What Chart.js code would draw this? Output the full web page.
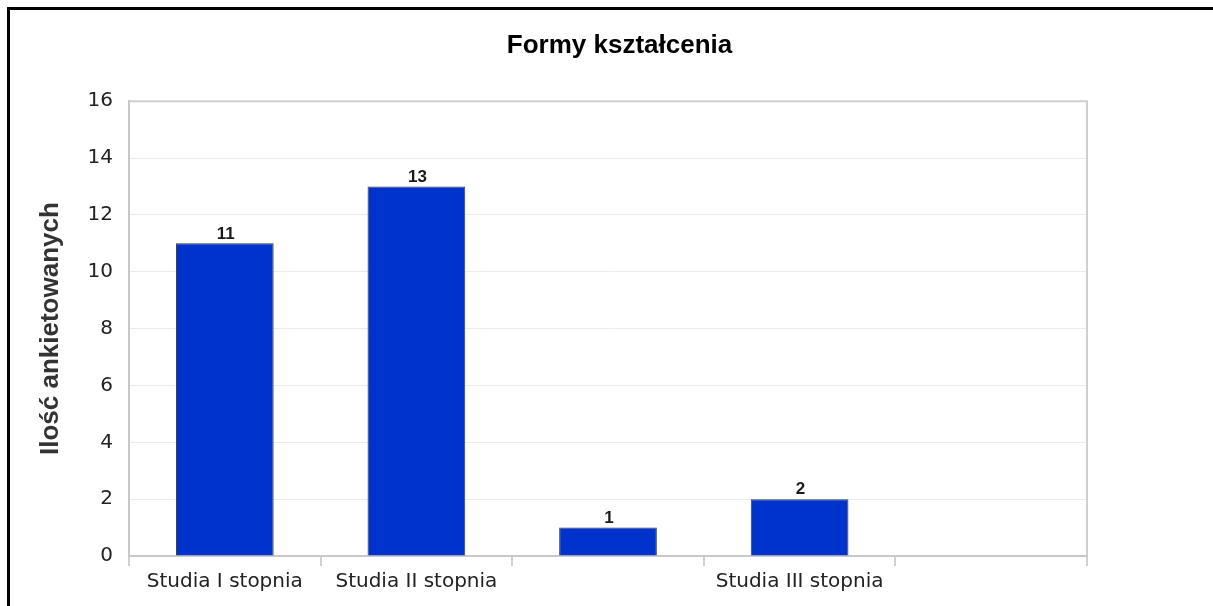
<!DOCTYPE html>
<html>
<head>
<meta charset="utf-8">
<script src="https://cdn.jsdelivr.net/npm/chart.js@4.4.1/dist/chart.umd.min.js"></script>
<style>
  html, body { margin: 0; padding: 0; background: #fff; }
  #wrap { width: 1213px; height: 606px; position: relative; }
</style>
</head>
<body>
<div id="wrap"><canvas id="formyChart"></canvas></div>
<script>
// data
const categories = ['Studia I stopnia', 'Studia II stopnia', '', 'Studia III stopnia', ''];
const respondents = [11, 13, 1, 2, null];
const yTicks = [0, 2, 4, 6, 8, 10, 12, 14, 16];

// black frame round the picture
const framePlugin = {
    id: 'frame',
    afterDraw(chart) {
        const ctx = chart.ctx;
        ctx.save();
        ctx.strokeStyle = '#000';
        ctx.lineWidth = 3;
        ctx.strokeRect(8.5, 8.5, chart.width + 20, chart.height + 20);
        ctx.restore();
    }
};

// title sits centred on the whole picture, not on the plot
const titleShift = {
    id: 'titleShift',
    afterLayout(chart) {
        const t = chart.titleBlock;
        if (!t) return;
        const w = t.right - t.left;
        const mid = chart.width / 2 + 13;
        t.left = mid - w / 2;
        t.right = mid + w / 2;
    }
};

// grey box round the plot area
const plotBoxPlugin = {
    id: 'plotBox',
    beforeDatasetsDraw(chart) {
        const a = chart.chartArea;
        const ctx = chart.ctx;
        ctx.save();
        ctx.strokeStyle = '#cfcfcf';
        ctx.lineWidth = 2;
        ctx.beginPath();
        ctx.moveTo(a.left, a.top);
        ctx.lineTo(a.right, a.top);
        ctx.lineTo(a.right, a.bottom);
        ctx.stroke();
        ctx.restore();
    }
};

// value over every bar
const valueLabels = {
    id: 'valueLabels',
    afterDatasetsDraw(chart) {
        const ctx = chart.ctx;
        const meta = chart.getDatasetMeta(0);
        ctx.save();
        ctx.font = 'bold 17px "Liberation Sans", Arial, sans-serif';
        ctx.fillStyle = '#1a1a1a';
        ctx.textAlign = 'center';
        ctx.textBaseline = 'bottom';
        meta.data.forEach((bar, i) => {
            const v = respondents[i];
            if (v === null || v === undefined) return;
            ctx.fillText(String(v), bar.x + 1, bar.y - 1);
        });
        ctx.restore();
    }
};

new Chart(
document.getElementById('formyChart'),
{
    type: 'bar',
    data: {
        labels: categories,
        datasets: [{
            data: respondents,
            backgroundColor: '#0033cc',
            borderColor: '#3a3a3a',
            borderWidth: 1,
            barPercentage: 0.51,
            categoryPercentage: 1
        }]
    },
    options: {
        responsive: true,
        maintainAspectRatio: false,
        animation: false,
        layout: {
            padding: { left: 20, right: 126, top: 0, bottom: 0 }
        },
        plugins: {
            legend: { display: false },
            tooltip: { enabled: false },
            title: {
                display: true,
                text: 'Formy kształcenia',
                color: '#000',
                font: { family: '"Liberation Sans", Arial, sans-serif', size: 26, weight: 'bold' },
                padding: { top: 30, bottom: 40 }
            }
        },
        scales: {
            x: {
                grid: {
                    offset: true,
                    drawOnChartArea: false,
                    drawTicks: true,
                    tickLength: 10,
                    color: '#cfcfcf',
                    lineWidth: 2
                },
                border: { color: '#c8c8c8', width: 2 },
                ticks: {
                    autoSkip: false,
                    maxRotation: 0,
                    padding: 4,
                    color: '#222',
                    font: { family: '"DejaVu Sans", sans-serif', size: 20 }
                },
                afterFit(scale) { scale.height = 50; }
            },
            y: {
                min: 0,
                max: 16,
                afterBuildTicks(scale) {
                    scale.ticks = yTicks.map(v => ({ value: v }));
                },
                grid: {
                    drawTicks: false,
                    color: '#ebebeb',
                    lineWidth: 1
                },
                border: { color: '#c8c8c8', width: 2 },
                ticks: {
                    padding: 16,
                    color: '#222',
                    font: { family: '"DejaVu Sans", sans-serif', size: 20 }
                },
                title: {
                    display: true,
                    text: 'Ilość ankietowanych',
                    color: '#333',
                    font: { family: '"Liberation Sans", Arial, sans-serif', size: 26, weight: 'bold' },
                    padding: { top: 15, bottom: 0 }
                },
                afterFit(scale) { scale.width = 109; }
            }
        }
    },
    plugins: [framePlugin, titleShift, plotBoxPlugin, valueLabels]
});
</script>
</body>
</html>
